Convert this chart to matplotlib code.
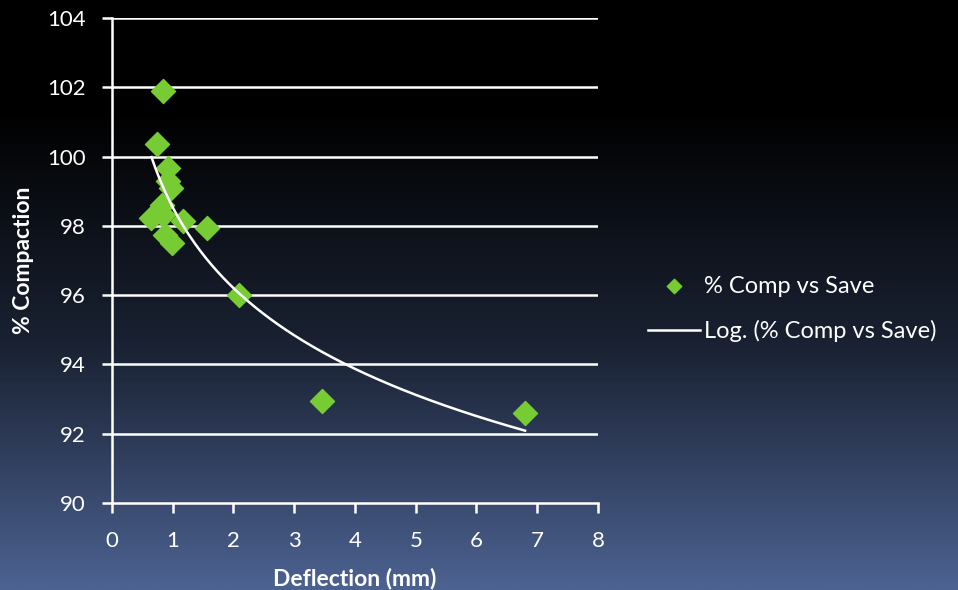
import numpy as np
import matplotlib.pyplot as plt
from matplotlib.colors import LinearSegmentedColormap

plt.rcParams['font.family'] = ['Lato', 'DejaVu Sans']

# deflection (mm) and % compaction
deflection = [0.845, 0.735, 0.93, 0.92, 0.97, 0.82, 0.65, 0.845, 1.17, 1.56, 0.87, 0.98, 2.09, 3.46, 6.8]
compaction = [101.9, 100.35, 99.68, 99.3, 99.1, 98.6, 98.22, 98.3, 98.15, 97.95, 97.75, 97.5, 96.0, 92.95, 92.6]

x_ticks = [0, 1, 2, 3, 4, 5, 6, 7, 8]
y_ticks = [90, 92, 94, 96, 98, 100, 102, 104]

x = np.array(deflection)
y = np.array(compaction)

# logarithmic trendline, like excel does it
a, b = np.polyfit(np.log(x), y, 1)
xt = np.linspace(x.min(), x.max(), 200)
yt = a * np.log(xt) + b

fig = plt.figure(figsize=(9.58, 5.9), dpi=100)

# background gradient
bg = fig.add_axes([0, 0, 1, 1])
grad = np.linspace(0, 1, 256).reshape(-1, 1)
grad = np.clip((grad - 0.18) / 0.82, 0, 1)
cmap = LinearSegmentedColormap.from_list('bg', ['#000000', '#1a2233', '#4c6291'])
bg.imshow(grad, aspect='auto', cmap=cmap, extent=[0, 1, 0, 1], origin='upper')
bg.axis('off')

ax = fig.add_axes([0.1169, 0.1475, 0.5073, 0.822])
ax.patch.set_alpha(0)

for yy in y_ticks[1:]:
    ax.axhline(yy, color='white', lw=1.8, zorder=1)

ax.scatter(x, y, marker='D', s=150, color='#77cc33', zorder=3, label='% Comp vs Save')
ax.plot(xt, yt, color='white', lw=1.8, zorder=4, label='Log. (% Comp vs Save)')

ax.set_xlim(0, 8)
ax.set_ylim(90, 104)
ax.set_xticks(x_ticks)
ax.set_yticks(y_ticks)
for s in ['top', 'right']:
    ax.spines[s].set_visible(False)
for s in ['left', 'bottom']:
    ax.spines[s].set_color('white')
    ax.spines[s].set_linewidth(1.8)
ax.tick_params(colors='white', labelsize=16, width=1.8, length=7, direction='out')
ax.tick_params(axis='y', pad=12)
ax.tick_params(axis='x', pad=13)
ax.set_xlabel('Deflection (mm)', color='white', fontsize=16.5, fontweight='bold', labelpad=12)
ax.set_ylabel('% Compaction', color='white', fontsize=16.5, fontweight='bold', labelpad=9)

leg = ax.legend(loc='center left', bbox_to_anchor=(1.06, 0.40), frameon=False,
                fontsize=17, labelcolor='white', handlelength=2.2, labelspacing=1.0,
                handletextpad=0.15, markerscale=0.6)

fig.savefig('out.png', dpi=100)
